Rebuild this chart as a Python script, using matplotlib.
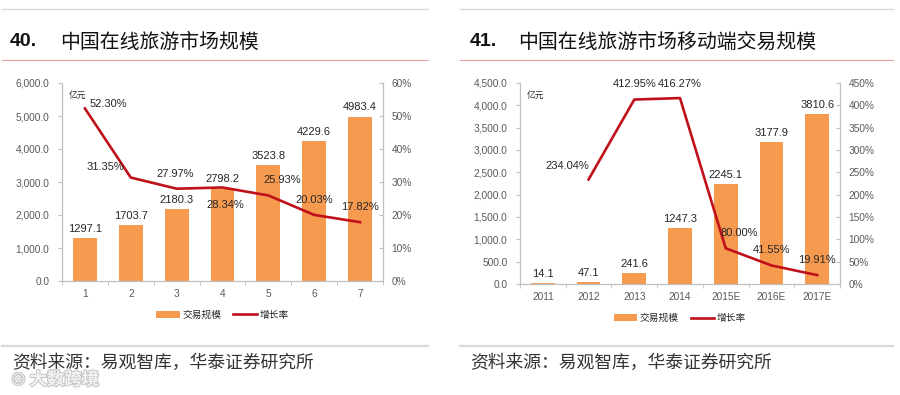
import numpy as np
import matplotlib
matplotlib.use("Agg")
import matplotlib.pyplot as plt
from matplotlib.lines import Line2D
from matplotlib.ticker import FuncFormatter, FixedLocator
import matplotlib.patheffects as pe

plt.rcParams['font.family'] = ['Liberation Sans', 'Noto Sans CJK SC', 'DejaVu Sans']

# ---- data ----
left_cats = ['1', '2', '3', '4', '5', '6', '7']
left_size = [1297.1, 1703.7, 2180.3, 2798.2, 3523.8, 4229.6, 4983.4]
left_growth = [52.30, 31.35, 27.97, 28.34, 25.93, 20.03, 17.82]

right_cats = ['2011', '2012', '2013', '2014', '2015E', '2016E', '2017E']
right_size = [14.1, 47.1, 241.6, 1247.3, 2245.1, 3177.9, 3810.6]
right_growth = [np.nan, 234.04, 412.95, 416.27, 80.00, 41.55, 19.91]

# label offsets for growth labels (pixels)
left_offs = [(23, 4), (-25, 11), (-1, 15), (3, -18), (14, 15), (0, 15), (0, 15)]
right_offs = [(0, 0), (-21, 13), (0, 16), (0, 14), (14, 15), (0, 15), (0, 15)]

BAR = '#F59A4F'
LINE = '#C0101A'
SPINE = '#BFBFBF'
TICK = '#595959'
TXT = '#262626'

W, H = 900, 395
fig = plt.figure(figsize=(W / 100, H / 100), dpi=100)


def box(x0, y0, x1, y1):
    return [x0 / W, 1 - y1 / H, (x1 - x0) / W, (y1 - y0) / H]


def hline(x0, x1, y, color, lw):
    fig.add_artist(Line2D([x0 / W, x1 / W], [1 - y / H, 1 - y / H],
                          color=color, lw=lw, transform=fig.transFigure))


def panel(rect, cats, size, growth, offs, ymax, ystep, rmax, rstep):
    ax = fig.add_axes(rect)
    ax2 = ax.twinx()
    x = np.arange(len(cats))
    bars = ax.bar(x, size, width=0.52, color=BAR, label='交易规模', zorder=2)
    ax.bar_label(bars, labels=[f'{v:.1f}' for v in size], padding=3,
                 fontsize=8, color=TXT)
    ln, = ax2.plot(x, growth, color=LINE, lw=1.9, label='增长率', zorder=3)
    for xi, g, (dx, dy) in zip(x, growth, offs):
        if np.isnan(g):
            continue
        ax2.annotate(f'{g:.2f}%', (xi, g), xytext=(dx, dy),
                     textcoords='offset pixels', ha='center', va='center',
                     fontsize=8, color=TXT)

    ax.set_xlim(-0.5, len(cats) - 0.5)
    ax.set_ylim(0, ymax)
    ax2.set_ylim(0, rmax)
    ax.set_yticks(np.arange(0, ymax + 1, ystep))
    ax2.set_yticks(np.arange(0, rmax + 1, rstep))
    ax.yaxis.set_major_formatter(FuncFormatter(lambda v, p: f'{v:,.1f}'))
    ax2.yaxis.set_major_formatter(FuncFormatter(lambda v, p: f'{v:.0f}%'))
    ax.set_xticks(x)
    ax.set_xticklabels(cats)
    ax.xaxis.set_minor_locator(FixedLocator(np.arange(-0.5, len(cats), 1)))
    ax.tick_params(axis='x', which='major', length=0, labelsize=7.3,
                   labelcolor=TICK, pad=6)
    ax.tick_params(axis='x', which='minor', length=3, color=SPINE, direction='out')
    ax.tick_params(axis='y', length=3, color=SPINE, labelsize=7.3,
                   labelcolor=TICK, pad=6)
    ax2.tick_params(axis='y', length=3, color=SPINE, direction='in',
                    labelsize=7.3, labelcolor=TICK, pad=6)
    for a in (ax, ax2):
        a.spines['top'].set_visible(False)
        for s in ('left', 'right', 'bottom'):
            a.spines[s].set_color(SPINE)
    ax.text(0.02, 0.94, '亿元', transform=ax.transAxes, fontsize=6.3,
            color=TXT, ha='left', va='center', style='italic')
    ax.legend([bars, ln], ['交易规模', '增长率'], loc='center',
              bbox_to_anchor=(0.5, -0.17), ncol=2, frameon=False,
              fontsize=7, handlelength=2.4, handletextpad=0.3,
              columnspacing=1.2, labelcolor=TXT)
    return ax


panel(box(62, 83, 383, 281), left_cats, left_size, left_growth, left_offs,
      6000, 1000, 60, 10)
panel(box(520, 83, 840, 284), right_cats, right_size, right_growth, right_offs,
      4500, 500, 450, 50)

# headers / footers
for x0, x1 in ((2, 428), (460, 893)):
    hline(x0, x1, 9, '#D9D9D9', 1.0)
    hline(x0, x1, 60, '#E8A0A0', 0.8)
    hline(x0, x1, 346, '#D9D9D9', 1.6)

fig.text(10 / W, 1 - 42 / H, '40.', fontsize=14, fontweight='bold',
         color='#111111', ha='left', va='center')
fig.text(60 / W, 1 - 42 / H, '中国在线旅游市场规模', fontsize=14.3,
         color='#111111', ha='left', va='center')
fig.text(470 / W, 1 - 42 / H, '41.', fontsize=14, fontweight='bold',
         color='#111111', ha='left', va='center')
fig.text(518 / W, 1 - 42 / H, '中国在线旅游市场移动端交易规模', fontsize=14.3,
         color='#111111', ha='left', va='center')

fig.text(12 / W, 1 - 363 / H, '资料来源：易观智库，华泰证券研究所', fontsize=12.8,
         color='#333333', ha='left', va='center')
fig.text(470 / W, 1 - 363 / H, '资料来源：易观智库，华泰证券研究所', fontsize=12.8,
         color='#333333', ha='left', va='center')

# faint watermark
fig.text(12 / W, 1 - 379 / H, '© 大数跨境', fontsize=12.5, color='#F2F2F2',
         ha='left', va='center', fontweight='bold',
         path_effects=[pe.withStroke(linewidth=1.5, foreground='#C8C8C8')])

fig.savefig('out.png', dpi=100)
